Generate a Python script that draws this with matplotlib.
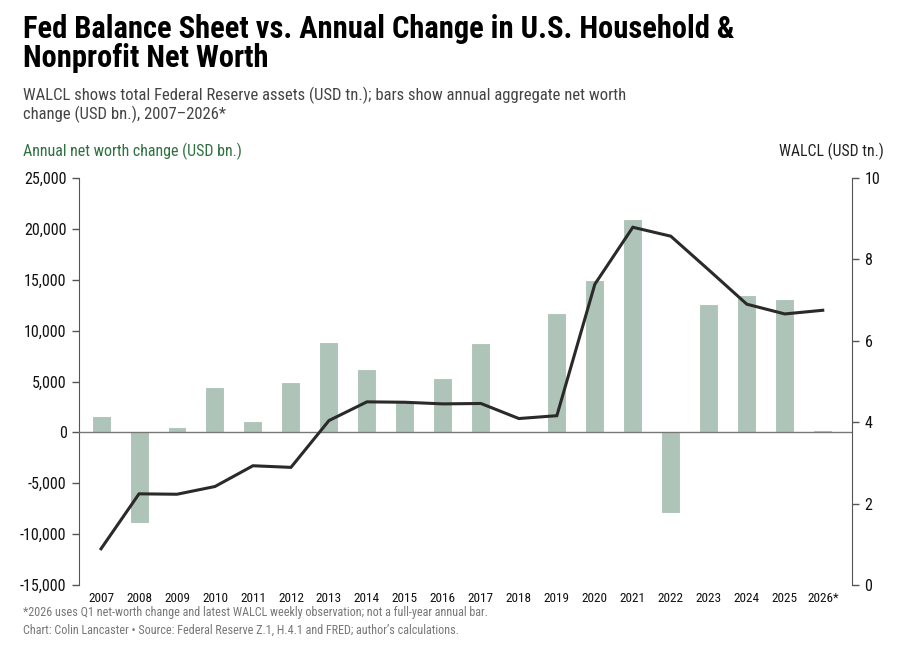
import matplotlib
matplotlib.use("Agg")
import matplotlib.pyplot as plt
from matplotlib import font_manager
from matplotlib.ticker import FuncFormatter

years = ["2007", "2008", "2009", "2010", "2011", "2012", "2013", "2014", "2015", "2016",
         "2017", "2018", "2019", "2020", "2021", "2022", "2023", "2024", "2025", "2026*"]
net_worth_change = [1650, -8900, 500, 4500, 1100, 5000, 8900, 6200, 2950, 5300,
                    8800, 60, 11750, 15000, 21000, -7900, 12650, 13500, 13150, 200]
walcl = [0.89, 2.24, 2.23, 2.42, 2.93, 2.89, 4.04, 4.50, 4.49, 4.45,
         4.46, 4.09, 4.16, 7.39, 8.79, 8.57, 7.74, 6.90, 6.66, 6.75]
left_ticks = [-15000, -10000, -5000, 0, 5000, 10000, 15000, 20000, 25000]
right_ticks = [0, 2, 4, 6, 8, 10]

available = {f.name for f in font_manager.fontManager.ttflist}
fam = [f for f in ["Roboto Condensed", "Liberation Sans Narrow", "Roboto", "DejaVu Sans"] if f in available]
plt.rcParams['font.family'] = fam

BAR = "#aec4b8"
GREEN = "#2f7040"
SPINE = "#555555"

fig = plt.figure(figsize=(9.02, 6.46), dpi=100)
ax = fig.add_axes([79/902, 61/646, (852-79)/902, 407/646])
x = list(range(len(years)))
ax.bar(x, net_worth_change, width=0.5, color=BAR, edgecolor="white", linewidth=0.8, zorder=2)
ax.axhline(0, color="#777777", linewidth=1.0, zorder=3)
ax.set_ylim(-15000, 25000)
ax.set_xlim(-0.58, 19.77)
ax.set_yticks(left_ticks)
ax.yaxis.set_major_formatter(FuncFormatter(lambda v, p: f"{int(v):,}"))
ax.set_xticks(x)
ax.set_xticklabels(years, fontsize=9.5)
ax.tick_params(axis="x", length=0, pad=5, colors="#111111")
ax.tick_params(axis="y", length=5, width=1, color=SPINE, labelsize=11.5, labelcolor="#111111", pad=4)
for s in ["top", "bottom", "right"]:
    ax.spines[s].set_visible(False)
ax.spines["left"].set_color(SPINE)

ax2 = ax.twinx()
ax2.plot(x, walcl, color="#2a2a2a", linewidth=2.2, zorder=4, solid_joinstyle="miter")
ax2.set_ylim(0, 10)
ax2.set_yticks(right_ticks)
ax2.tick_params(axis="y", length=5, width=1, color=SPINE, labelsize=11.5, labelcolor="#111111", pad=4)
for s in ["top", "bottom", "left"]:
    ax2.spines[s].set_visible(False)
ax2.spines["right"].set_color(SPINE)

fig.text(23/902, 1 - 66.7/646, "Fed Balance Sheet vs. Annual Change in U.S. Household &\nNonprofit Net Worth",
         fontsize=22, fontweight="heavy", color="#000000", ha="left", va="baseline", linespacing=0.93)
fig.text(23/902, 1 - 119.5/646, "WALCL shows total Federal Reserve assets (USD tn.); bars show annual aggregate net worth\nchange (USD bn.), 2007\u20132026*",
         fontsize=12, color="#444444", ha="left", va="baseline", linespacing=1.15)
fig.text(23/902, 1 - 156/646, "Annual net worth change (USD bn.)", fontsize=11.5, color=GREEN, ha="left", va="baseline")
fig.text(884/902, 1 - 156/646, "WALCL (USD tn.)", fontsize=11.3, color="#222222", ha="right", va="baseline")
fig.text(23/902, 1 - 616/646, "*2026 uses Q1 net-worth change and latest WALCL weekly observation; not a full-year annual bar.",
         fontsize=8.7, color="#777777", ha="left", va="baseline")
fig.text(23/902, 1 - 634/646, "Chart: Colin Lancaster \u2022 Source: Federal Reserve Z.1, H.4.1 and FRED; author\u2019s calculations.",
         fontsize=8.7, color="#777777", ha="left", va="baseline")

fig.savefig("out.png", dpi=100)
